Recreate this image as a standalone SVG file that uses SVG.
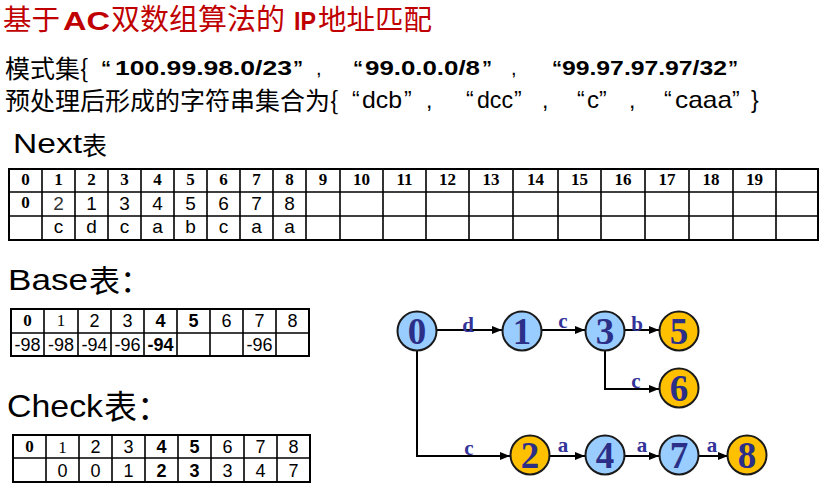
<svg xmlns="http://www.w3.org/2000/svg" width="827" height="495" viewBox="0 0 827 495">
<style>
.cjk{font-family:"Noto Sans CJK SC","Noto Sans",sans-serif;}
.lat{font-family:"Liberation Sans",Arial,sans-serif;}
.latb{font-family:"Liberation Sans",Arial,sans-serif;font-weight:bold;}
.ser{font-family:"Liberation Serif","Times New Roman",serif;}
.serb{font-family:"Liberation Serif","Times New Roman",serif;font-weight:bold;}
.title{fill:#C00000;}
.tb{fill:none;stroke:#000;stroke-width:2;}
.tl{stroke:#000;stroke-width:1.6;}
.th{font-size:17px;text-anchor:middle;}
.td{font-size:19px;text-anchor:middle;}
.ts{font-size:18px;text-anchor:middle;}
.blue{fill:#99CCFF;stroke:#1a1a1a;stroke-width:2;}
.orange{fill:#FFC000;stroke:#1a1a1a;stroke-width:2;}
.nl{font-family:"Liberation Serif","Times New Roman",serif;font-weight:bold;font-size:37px;fill:#2B2F87;text-anchor:middle;}
.el{font-family:"Liberation Serif","Times New Roman",serif;font-weight:bold;font-size:21px;fill:#333399;text-anchor:middle;}
.edge{fill:none;stroke:#000;stroke-width:2;}
</style>
<defs>
<marker id="arr" markerUnits="userSpaceOnUse" markerWidth="11" markerHeight="9" refX="10" refY="4" orient="auto">
<path d="M0,0 L10,4 L0,8 z" fill="#000"/>
</marker>
</defs>

<g id="title">
<text class="cjk title" x="3" y="30" font-size="28.5">基于</text>
<text class="latb title" x="63" y="30" font-size="26.5" textLength="47" lengthAdjust="spacingAndGlyphs">AC</text>
<text class="cjk title" x="111" y="30" font-size="29">双数组算法的</text>
<text class="latb title" x="294" y="30" font-size="26.5" textLength="22" lengthAdjust="spacingAndGlyphs">IP</text>
<text class="cjk title" x="318" y="30" font-size="28.5">地址匹配</text>
</g>

<g id="line-patterns">
<text class="cjk" x="5" y="78" font-size="25">模式集{</text>
<text class="latb" x="101" y="75" font-size="20">“</text>
<text class="latb" x="115" y="75" font-size="19.5" textLength="177" lengthAdjust="spacingAndGlyphs">100.99.98.0/23</text>
<text class="latb" x="293" y="75" font-size="20">”</text>
<text class="lat" x="316" y="75" font-size="20">,</text>
<text class="latb" x="353" y="75" font-size="20">“</text>
<text class="latb" x="365" y="75" font-size="19.5" textLength="115" lengthAdjust="spacingAndGlyphs">99.0.0.0/8</text>
<text class="latb" x="482" y="75" font-size="20">”</text>
<text class="lat" x="511" y="75" font-size="20">,</text>
<text class="latb" x="552" y="75" font-size="20">“</text>
<text class="latb" x="562" y="75" font-size="19.5" textLength="165" lengthAdjust="spacingAndGlyphs">99.97.97.97/32</text>
<text class="latb" x="728" y="75" font-size="20">”</text>
</g>

<g id="line-strings">
<text class="cjk" x="5" y="110" font-size="25">预处理后形成的字符串集合为{</text>
<text class="lat" x="352" y="108" font-size="23">“</text>
<text class="lat" x="362" y="108" font-size="24" textLength="40" lengthAdjust="spacingAndGlyphs">dcb</text>
<text class="lat" x="404" y="108" font-size="23">”</text>
<text class="lat" x="426" y="108" font-size="23">,</text>
<text class="lat" x="466" y="108" font-size="23">“</text>
<text class="lat" x="477" y="108" font-size="24" textLength="36" lengthAdjust="spacingAndGlyphs">dcc</text>
<text class="lat" x="514" y="108" font-size="23">”</text>
<text class="lat" x="542" y="108" font-size="23">,</text>
<text class="lat" x="577" y="108" font-size="23">“</text>
<text class="lat" x="587" y="108" font-size="24">c</text>
<text class="lat" x="599" y="108" font-size="23">”</text>
<text class="lat" x="629" y="108" font-size="23">,</text>
<text class="lat" x="664" y="108" font-size="23">“</text>
<text class="lat" x="675" y="108" font-size="24" textLength="57" lengthAdjust="spacingAndGlyphs">caaa</text>
<text class="lat" x="732" y="108" font-size="23">”</text>
<text class="lat" x="751" y="108" font-size="23">}</text>
</g>

<g id="next-label">
<text class="lat" x="13" y="153" font-size="27" textLength="69" lengthAdjust="spacingAndGlyphs">Next</text>
<text class="cjk" x="82" y="155" font-size="25">表</text>
</g>

<g id="next-table">
<rect class="tb" x="9" y="169" width="809" height="71"/>
<path class="tl" d="M9,192H818M9,216H818M42,169V240M75,169V240M108,169V240M141,169V240M174,169V240M207,169V240M240,169V240M273,169V240M306,169V240M340,169V240M383,169V240M426,169V240M469,169V240M513,169V240M558,169V240M601,169V240M645,169V240M689,169V240M733,169V240M776,169V240"/>
<g class="serb th">
<text x="25.5" y="185">0</text><text x="58.5" y="185">1</text><text x="91.5" y="185">2</text><text x="124.5" y="185">3</text><text x="157.5" y="185">4</text><text x="190.5" y="185">5</text><text x="223.5" y="185">6</text><text x="256.5" y="185">7</text><text x="289.5" y="185">8</text><text x="323" y="185">9</text><text x="361.5" y="185">10</text><text x="404.5" y="185">11</text><text x="447.5" y="185">12</text><text x="491" y="185">13</text><text x="535.5" y="185">14</text><text x="579.5" y="185">15</text><text x="623" y="185">16</text><text x="667" y="185">17</text><text x="711" y="185">18</text><text x="754.5" y="185">19</text>
</g>
<text class="serb th" x="25.5" y="208">0</text>
<g class="lat td">
<text x="58.5" y="210" fill="#333">2</text><text x="91.5" y="210">1</text><text x="124.5" y="210">3</text><text x="157.5" y="210">4</text><text x="190.5" y="210">5</text><text x="223.5" y="210">6</text><text x="256.5" y="210">7</text><text x="289.5" y="210">8</text>
</g>
<g class="lat td">
<text x="58.5" y="233">c</text><text x="91.5" y="233">d</text><text x="124.5" y="233">c</text><text x="157.5" y="233">a</text><text x="190.5" y="233">b</text><text x="223.5" y="233">c</text><text x="256.5" y="233">a</text><text x="289.5" y="233">a</text>
</g>
</g>

<g id="base-label">
<text class="lat" x="8" y="290" font-size="30" textLength="80" lengthAdjust="spacingAndGlyphs">Base</text>
<text class="cjk" x="89" y="292" font-size="31">表：</text>
</g>

<g id="base-table">
<rect class="tb" x="11" y="309" width="298" height="47"/>
<path class="tl" d="M11,333H309M44,309V356M78,309V356M111,309V356M144,309V356M177,309V356M210,309V356M243,309V356M276,309V356"/>
<text class="serb th" x="27.5" y="326">0</text>
<text class="ser th" x="61" y="326">1</text>
<text class="lat ts" x="94.5" y="327">2</text>
<text class="lat ts" x="127.5" y="327">3</text>
<text class="latb ts" x="160.5" y="327">4</text>
<text class="latb ts" x="193.5" y="327">5</text>
<text class="lat ts" x="226.5" y="327">6</text>
<text class="lat ts" x="259.5" y="327">7</text>
<text class="lat ts" x="292.5" y="327">8</text>
<text class="lat ts" x="27.5" y="351">-98</text>
<text class="lat ts" x="61" y="351">-98</text>
<text class="lat ts" x="94.5" y="351">-94</text>
<text class="lat ts" x="127.5" y="351">-96</text>
<text class="latb ts" x="160.5" y="351">-94</text>
<text class="lat ts" x="259.5" y="351">-96</text>
</g>

<g id="check-label">
<text class="lat" x="7" y="417" font-size="32" textLength="96" lengthAdjust="spacingAndGlyphs">Check</text>
<text class="cjk" x="104" y="419" font-size="33">表：</text>
</g>

<g id="check-table">
<rect class="tb" x="13" y="435" width="297" height="47"/>
<path class="tl" d="M13,458H310M46,435V482M79,435V482M112,435V482M145,435V482M178,435V482M211,435V482M244,435V482M277,435V482"/>
<text class="serb th" x="29.5" y="452">0</text>
<text class="ser th" x="62.5" y="453">1</text>
<text class="lat ts" x="95.5" y="453">2</text>
<text class="lat ts" x="128.5" y="453">3</text>
<text class="latb ts" x="161.5" y="453">4</text>
<text class="latb ts" x="194.5" y="453">5</text>
<text class="lat ts" x="227.5" y="453">6</text>
<text class="lat ts" x="260.5" y="453">7</text>
<text class="lat ts" x="293.5" y="453">8</text>
<text class="lat ts" x="62.5" y="477">0</text>
<text class="lat ts" x="95.5" y="477">0</text>
<text class="lat ts" x="128.5" y="477">1</text>
<text class="latb ts" x="161.5" y="477">2</text>
<text class="latb ts" x="194.5" y="477">3</text>
<text class="lat ts" x="227.5" y="477">3</text>
<text class="lat ts" x="260.5" y="477">4</text>
<text class="lat ts" x="293.5" y="477">7</text>
</g>

<g id="connectors">
<path class="edge" d="M437,330H502" marker-end="url(#arr)"/>
<path class="edge" d="M542,330H585" marker-end="url(#arr)"/>
<path class="edge" d="M625,330H659" marker-end="url(#arr)"/>
<path class="edge" d="M605,350V389H659" marker-end="url(#arr)"/>
<path class="edge" d="M417,350V456H510" marker-end="url(#arr)"/>
<path class="edge" d="M550,456H585" marker-end="url(#arr)"/>
<path class="edge" d="M625,456H659" marker-end="url(#arr)"/>
<path class="edge" d="M698,456H728" marker-end="url(#arr)"/>
<text class="el" x="468" y="332">d</text>
<text class="el" x="563" y="328">c</text>
<text class="el" x="637" y="331">b</text>
<text class="el" x="636" y="388">c</text>
<text class="el" x="469" y="455">c</text>
<text class="el" x="563" y="452">a</text>
<text class="el" x="642" y="452">a</text>
<text class="el" x="712" y="452">a</text>
</g>

<g id="node-0"><circle class="blue" cx="417" cy="331" r="19.5"/><text class="nl" x="417" y="344">0</text></g>
<g id="node-1"><circle class="blue" cx="522" cy="331" r="19.5"/><text class="nl" x="522" y="344">1</text></g>
<g id="node-3"><circle class="blue" cx="605" cy="331" r="19.5"/><text class="nl" x="605" y="344">3</text></g>
<g id="node-5"><circle class="orange" cx="679" cy="331" r="19.5"/><text class="nl" x="679" y="344">5</text></g>
<g id="node-6"><circle class="orange" cx="679" cy="388" r="19.5"/><text class="nl" x="679" y="401">6</text></g>
<g id="node-2"><circle class="orange" cx="530" cy="455" r="19.5"/><text class="nl" x="530" y="468">2</text></g>
<g id="node-4"><circle class="blue" cx="605" cy="455" r="19.5"/><text class="nl" x="605" y="468">4</text></g>
<g id="node-7"><circle class="blue" cx="679" cy="455" r="19.5"/><text class="nl" x="679" y="468">7</text></g>
<g id="node-8"><circle class="orange" cx="747" cy="455" r="19.5"/><text class="nl" x="747" y="468">8</text></g>
</svg>
